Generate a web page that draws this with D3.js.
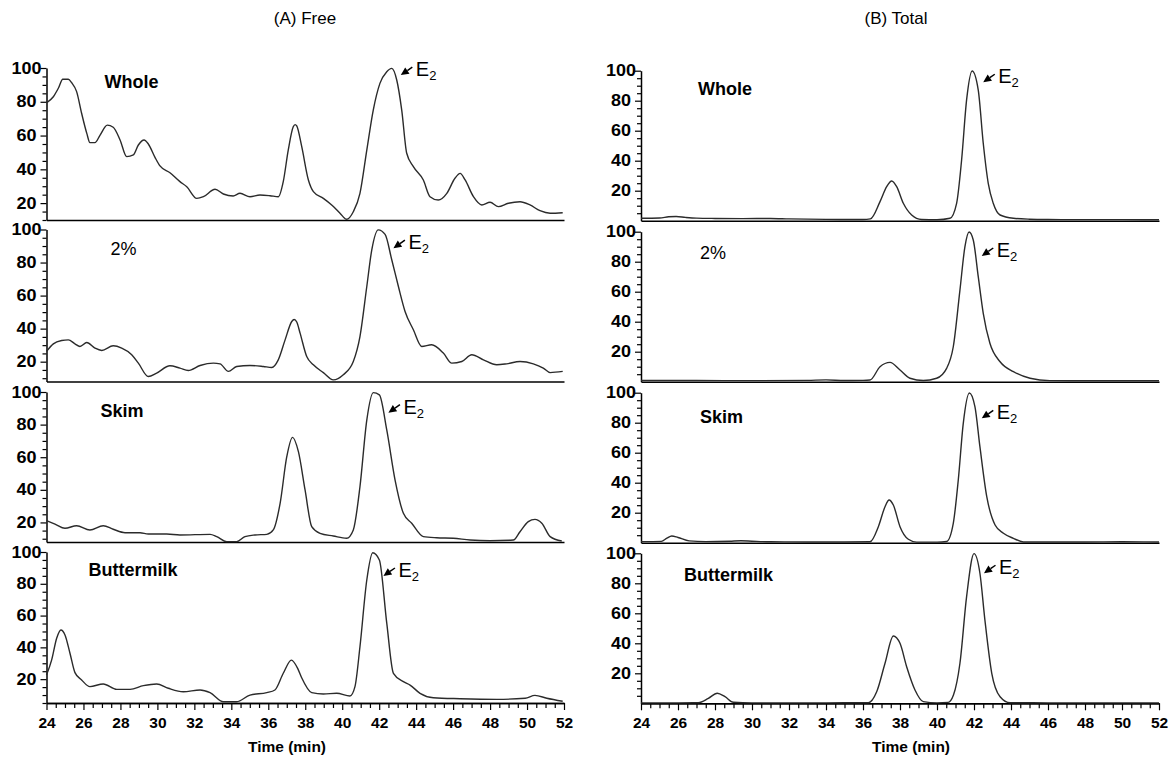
<!DOCTYPE html>
<html>
<head>
<meta charset="utf-8">
<script src="https://cdn.jsdelivr.net/npm/d3@7"></script>
<style>
  body { margin: 0; background: #fff; }
  svg { display: block; }
  text { font-family: "Liberation Sans", Arial, sans-serif; fill: #000; }
</style>
</head>
<body>
<svg id="chart" width="1176" height="759"></svg>
<script>
// ---- data ----
const panelTitles = ["(A) Free", "(B) Total"]
const sampleNames = ["Whole", "2%", "Skim", "Buttermilk"]
const xTickLabels = [24, 26, 28, 30, 32, 34, 36, 38, 40, 42, 44, 46, 48, 50, 52]
const yTickLabels = [20, 40, 60, 80, 100]
const freeYMin = [10, 8, 8, 5]
const totalYMin = [0, 0, 0, 0]

// [time (min), relative response]
const freeWhole = [[24.0,79.4],[24.37,83],[24.64,88],[24.88,93.3],[25.18,93.3],[25.36,91.3],[25.63,86],[25.9,73.2],[26.18,61.3],[26.35,55.8],[26.62,55.8],[26.9,60.3],[27.29,66.2],[27.61,64.9],[27.98,57.4],[28.34,47.5],[28.7,48.5],[28.97,54.4],[29.28,57.4],[29.51,55],[29.87,47.1],[30.14,42],[30.68,38],[31.22,32.7],[31.59,29.7],[32.13,22.8],[32.49,23.8],[33.12,28.2],[33.57,25.4],[34.1,24.2],[34.47,25.8],[35.01,23.8],[35.55,24.8],[36.09,24.4],[36.55,23.8],[36.81,32.7],[37.08,51.4],[37.35,65.2],[37.45,66.5],[37.54,65.7],[37.81,53.4],[38.17,33.7],[38.44,26.8],[38.98,22.8],[39.43,18.9],[39.88,14],[40.24,10.4],[40.6,14.9],[40.96,25.8],[41.33,51.4],[41.68,75.1],[42.04,90.9],[42.41,97.8],[42.68,99.8],[42.95,92.9],[43.22,75.1],[43.49,49.5],[43.85,41.6],[44.39,33.7],[44.75,23.8],[45.2,21.8],[45.66,25.8],[46.1,34.7],[46.38,37.6],[46.65,33.7],[47.1,23.8],[47.55,18.9],[48,20.5],[48.45,17.9],[48.99,19.9],[49.62,20.8],[50.16,18.9],[50.7,15.5],[51.25,14],[51.93,14.3]]
const free2pct = [[24,26.2],[24.37,30.8],[24.82,32.8],[25.18,33.2],[25.54,30.8],[25.81,29.2],[26.18,31.6],[26.62,28.2],[26.99,26.8],[27.61,29.6],[28.07,28.2],[28.61,24.2],[28.97,19.1],[29.51,11],[29.96,13.1],[30.68,17.5],[31.22,16.1],[31.67,14.7],[32.31,17.7],[33.03,19.1],[33.39,18.7],[33.84,14.1],[34.29,17.1],[35.01,17.7],[35.73,17.1],[36.19,16.5],[36.54,21.1],[36.91,33.2],[37.27,44.3],[37.4,45.5],[37.54,44],[37.72,37.3],[38.08,23.1],[38.44,18.1],[38.98,13.4],[39.52,9],[40.06,12.1],[40.6,20.1],[40.96,35.2],[41.33,65.5],[41.6,87.7],[41.95,99.8],[42.32,97],[42.68,81.7],[43.04,65.5],[43.4,50.4],[43.85,39.3],[44.3,29.2],[44.84,30.2],[45.47,25.2],[45.93,19.1],[46.47,20.1],[47.01,24.2],[47.64,21.1],[48.36,18.1],[48.9,18.7],[49.62,20.1],[50.34,18.7],[50.88,16.1],[51.25,13.4],[51.93,14.1]]
const freeSkim = [[24,21.1],[24.46,19],[25,16.4],[25.63,18],[26.35,15.4],[27.07,18],[27.61,15.8],[28.25,13.7],[29.06,13.7],[29.51,12.9],[30.5,12.9],[31.22,12.3],[32.85,12.7],[33.21,11.3],[33.75,8.2],[34.29,8.2],[34.74,11.3],[35.28,12.3],[35.92,12.7],[36.27,15.4],[36.64,31.7],[37,60.3],[37.31,72.2],[37.63,63.4],[37.99,39.9],[38.35,17.4],[38.8,13.3],[39.52,11.7],[40.24,10.3],[40.6,15.4],[40.96,41.9],[41.33,82.8],[41.68,99.6],[42.01,98.2],[42.41,76.7],[42.86,46],[43.31,25.6],[43.76,19.5],[44.39,11.3],[45.11,10.6],[46.01,10.3],[46.92,9.2],[48,8.8],[49.26,9.2],[49.62,14.3],[50.07,20.5],[50.43,21.9],[50.8,19.5],[51.25,11.3],[51.88,8.6]]
const freeButtermilk = [[24,22.6],[24.28,32.1],[24.55,45.7],[24.78,50.9],[25,47.8],[25.27,36.3],[25.54,24.1],[25.9,19.5],[26.35,15.3],[27.07,17],[27.8,13.6],[28.52,13.6],[29.24,15.9],[29.96,17],[30.59,14.3],[31.4,12.1],[32.31,13.2],[32.85,11.5],[33.57,5.8],[34.29,5.8],[35.01,10],[35.92,11.5],[36.36,13.2],[36.81,23.7],[37.25,32],[37.59,26.8],[37.8,21],[38.35,11.5],[38.98,10.7],[39.7,11.1],[40.42,9.4],[40.69,15.3],[40.96,40.4],[41.33,82.4],[41.65,99.5],[42.01,95],[42.41,55.2],[42.77,23.7],[43.31,18.4],[43.67,16.3],[44.21,11.1],[44.93,8.3],[46.38,7.7],[48.37,7.3],[49.9,8],[50.43,9.8],[51.07,8],[51.93,6.1]]

const totalWhole = [[24,1.6],[25,1.8],[25.5,2.6],[25.9,2.8],[26.4,2.2],[27,1.7],[28,1.5],[29.5,1.4],[31,1.5],[32,1.2],[34,0.9],[36,0.8],[36.4,1.2],[36.92,12.7],[37.28,22.7],[37.55,26.5],[37.82,22.7],[38.18,11.6],[38.63,3.8],[39.17,0.8],[40,0.6],[40.7,1.6],[41.06,11.6],[41.33,40.5],[41.6,80.5],[41.9,99.8],[42.23,87.1],[42.5,51.6],[42.77,24.9],[43.04,11.6],[43.41,3.8],[44.13,1.6],[45,1],[46,0.8],[48,0.7],[50,0.7],[52,0.6]]
const total2pct = [[24,0.8],[27,0.8],[30,0.7],[33,0.9],[34,1.2],[35,0.8],[36,0.9],[36.38,1.1],[36.92,10],[37.46,12.9],[38,7.8],[38.54,2.3],[39.26,0.8],[39.98,2.3],[40.52,8.9],[40.88,23.3],[41.24,61.1],[41.51,90],[41.73,99.8],[41.96,94.5],[42.23,70],[42.5,45.6],[42.86,25.6],[43.41,13.3],[44.13,6.7],[45.03,2.3],[46.1,0.7],[48,0.6],[50,0.6],[52,0.6]]
const totalSkim = [[24,0.7],[25.1,0.9],[25.4,3],[25.66,4.5],[26,3.5],[26.6,1.2],[27.5,0.7],[28.8,1],[29.4,1.3],[30,1],[31,0.6],[33,0.5],[35,0.5],[36.38,0.6],[36.83,10.7],[37.19,24],[37.41,28.5],[37.64,25.1],[38,10.7],[38.45,2.3],[38.9,0.4],[40,0.4],[40.52,0.8],[40.88,12.9],[41.15,41.8],[41.42,79.6],[41.75,99.8],[42.05,90.7],[42.32,64],[42.69,30.7],[43.14,11.8],[43.59,6.3],[44.13,2.9],[44.67,0.5],[46,0.5],[48,0.5],[50,0.6],[52,0.5]]
const totalButtermilk = [[24,0.3],[26,0.3],[27.1,0.4],[27.64,3.3],[28.12,6.7],[28.54,4.4],[28.99,0.7],[30,0.3],[32,0.3],[34,0.3],[36.29,0.4],[36.74,7.7],[37.19,26.7],[37.64,44.9],[38,40],[38.36,24.4],[38.81,8.9],[39.26,1.1],[40,0.3],[40.6,0.6],[40.89,5.5],[41.24,26.7],[41.6,71.1],[42,99.8],[42.32,86.7],[42.59,55.5],[42.96,20],[43.41,4.4],[43.95,0.4],[46,0.3],[48,0.3],[50,0.3],[52,0.3]]

// E2 arrow tips [time, response]
const freeE2Tips = [[43.17, 95.8], [42.77, 88.7], [42.5, 87.3], [42.23, 84.9]]
const totalE2Tips = [[42.5, 92.3], [42.42, 83.8], [42.42, 82.9], [42.54, 86.7]]

// ---- layout ----
const svg = d3.select("#chart")
const font = '"Liberation Sans", Arial, sans-serif'

const panels = [
  {
    title: panelTitles[0], left: 46.5, right: 564, titleX: 305, timeX: 287,
    bottoms: [220, 381.5, 542, 703], heights: [152, 152, 150, 151],
    yMin: freeYMin, series: [freeWhole, free2pct, freeSkim, freeButtermilk],
    tips: freeE2Tips, labelPos: [[58, 14], [64, 19], [54, 19], [42, 18]]
  },
  {
    title: panelTitles[1], left: 641, right: 1159, titleX: 896, timeX: 911,
    bottoms: [220.7, 381.7, 542.7, 703.3], heights: [150, 150, 150, 150],
    yMin: totalYMin, series: [totalWhole, total2pct, totalSkim, totalButtermilk],
    tips: totalE2Tips, labelPos: [[57, 18], [59, 21], [59, 24], [43, 22]]
  }
]

panels.forEach(p => {
  // Panel title
  svg.append("text")
    .attr("x", p.titleX)
    .attr("y", 24)
    .attr("text-anchor", "middle")
    .style("font-size", "17px")
    .text(p.title)

  const x = d3.scaleLinear().domain([24, 52]).range([p.left, p.right])

  p.series.forEach((data, i) => {
    const bottom = p.bottoms[i]
    const top = bottom - p.heights[i]
    const y = d3.scaleLinear().domain([p.yMin[i], 100]).range([bottom, top])
    const isLast = i === p.series.length - 1
    const g = svg.append("g")

    // Y axis: minor ticks, then major ticks with labels
    const minor = d3.range(Math.ceil(p.yMin[i] / 5) * 5, 100, 5).filter(v => v % 20 !== 0)
    g.append("g")
      .attr("transform", `translate(${p.left},0)`)
      .call(d3.axisLeft(y).tickValues(minor).tickSize(4).tickSizeOuter(0).tickFormat(""))
      .call(a => a.select(".domain").remove())

    const yAxis = g.append("g")
      .attr("transform", `translate(${p.left},0)`)
      .call(d3.axisLeft(y).tickValues(yTickLabels).tickSize(6).tickSizeOuter(0).tickFormat(d3.format("d")))
    yAxis.selectAll("text")
      .attr("x", -20)
      .attr("text-anchor", "middle")
      .attr("textLength", d => String(d).length * 10)
      .attr("lengthAdjust", "spacingAndGlyphs")
      .style("font-family", font)
      .style("font-size", "16px")
      .style("font-weight", "bold")

    // X axis line (ticks only on the bottom trace)
    const xAxis = g.append("g").attr("transform", `translate(0,${bottom})`)
    if (isLast) {
      xAxis.call(d3.axisBottom(x).tickValues(d3.range(24, 52.01, 0.5).filter(v => v % 2 !== 0))
        .tickSize(5).tickSizeOuter(0).tickFormat(""))
      xAxis.append("g")
        .call(d3.axisBottom(x).tickValues(xTickLabels).tickSize(7).tickSizeOuter(0).tickPadding(7).tickFormat(d3.format("d")))
        .selectAll("text")
        .style("font-family", font)
        .style("font-size", "15.5px")
        .style("font-weight", "bold")
    } else {
      xAxis.call(d3.axisBottom(x).tickValues([]).tickSizeOuter(0))
    }

    svg.selectAll(".domain").attr("stroke", "#000").attr("stroke-width", 1.5)
    svg.selectAll(".tick line").attr("stroke", "#000").attr("stroke-width", 1.2)

    // Trace
    const line = d3.line()
      .x(d => x(d[0]))
      .y(d => y(d[1]))
      .curve(d3.curveMonotoneX)

    g.append("path")
      .datum(data)
      .attr("fill", "none")
      .attr("stroke", "#2b2b2b")
      .attr("stroke-width", 1.4)
      .attr("stroke-linejoin", "round")
      .attr("d", line)

    // Sample name
    const [lx, ly] = p.labelPos[i]
    g.append("text")
      .attr("x", p.left + lx)
      .attr("y", top + ly + 6)
      .style("font-size", "18px")
      .style("font-weight", sampleNames[i] === "2%" ? "normal" : "bold")
      .text(sampleNames[i])

    // E2 arrow + label
    const tx = x(p.tips[i][0]), ty = y(p.tips[i][1])
    const dx = -11.5, dy = 8
    const len = Math.hypot(dx, dy)
    const ux = dx / len, uy = dy / len
    const bx = tx - ux * 8, by = ty - uy * 8
    g.append("line")
      .attr("x1", tx - dx).attr("y1", ty - dy)
      .attr("x2", bx).attr("y2", by)
      .attr("stroke", "#000").attr("stroke-width", 1.5)
    g.append("path")
      .attr("d", `M${tx},${ty}L${bx - uy * 3.8},${by + ux * 3.8}L${bx + uy * 3.8},${by - ux * 3.8}Z`)
      .attr("fill", "#000")
    const e = g.append("text")
      .attr("x", tx + 15)
      .attr("y", ty + 1)
      .style("font-size", "20px")
    e.append("tspan").text("E")
    e.append("tspan").attr("dy", 4).style("font-size", "13px").text("2")
  })

  // X axis title
  svg.append("text")
    .attr("x", p.timeX)
    .attr("y", 752)
    .attr("text-anchor", "middle")
    .style("font-size", "15.5px")
    .style("font-weight", "bold")
    .text("Time (min)")
})
</script>
</body>
</html>
